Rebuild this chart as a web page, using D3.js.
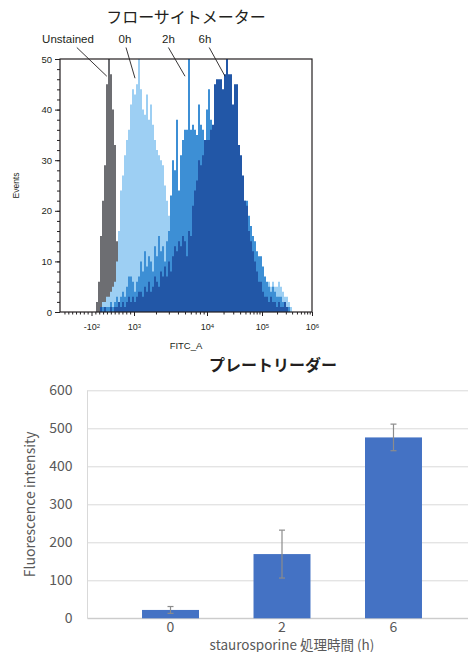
<!DOCTYPE html>
<html>
<head>
<meta charset="utf-8">
<script src="https://cdn.jsdelivr.net/npm/d3@7"></script>
<style>
  body { margin: 0; background: #fff; }
  svg { display: block; }
  .flow text { font-family: "Liberation Sans", Arial, sans-serif; fill: #231f20; }
  .plate text { font-family: "Noto Sans CJK JP", "Noto Sans", sans-serif; fill: #595959; }
</style>
</head>
<body>
<svg id="chart" width="468" height="652"></svg>
<script>
// ---- flow cytometer: counts per display channel (2 px bins) ----
var unstainedStart = 18;
var unstained = [2, 6, 15, 22, 29, 45, 50, 47, 40, 33, 14, 4];

var stainedStart = 20;
var h0 = [1, 2, 2, 3, 3, 4, 5, 6, 10, 16,
          24, 27, 31, 34, 36, 41, 44, 43, 45, 50,
          44, 40, 39, 43, 38, 41, 37, 34, 32, 31,
          30, 29, 25, 22, 19, 18, 17, 16, 16, 15,
          14, 14, 13, 13, 12, 12, 12, 11, 11, 11,
          10, 10, 10, 9, 9, 9, 9, 9, 8, 8,
          8, 8, 8, 8, 8, 8, 8, 8, 8, 8,
          8, 8, 8, 7, 7, 7, 7, 7, 7, 6,
          6, 7, 6, 5, 6, 5, 6, 5, 5, 6,
          5, 4, 3, 3, 2, 1];
var h2 = [0, 1, 0, 1, 1, 2, 1, 2, 3, 2,
          3, 4, 3, 5, 7, 7, 6, 4, 6, 7,
          10, 8, 12, 9, 11, 10, 8, 13, 11, 15,
          12, 13, 10, 14, 16, 23, 30, 28, 38, 24,
          31, 34, 36, 36, 50, 36, 37, 36, 35, 41,
          37, 36, 34, 40, 44, 38, 33, 32, 32, 31,
          30, 30, 29, 28, 27, 27, 26, 25, 25, 24,
          24, 23, 22, 22, 19, 17, 15, 14, 12, 11,
          11, 9, 7, 6, 5, 4, 5, 4, 3, 3,
          3, 2, 2, 1, 1, 0];
var h6 = [1, 0, 1, 0, 0, 1, 0, 1, 1, 2,
          1, 2, 1, 2, 3, 2, 3, 2, 3, 4,
          4, 3, 5, 4, 6, 4, 5, 7, 6, 5,
          8, 7, 9, 7, 10, 8, 11, 13, 12, 14,
          13, 15, 14, 11, 16, 15, 21, 24, 26, 30,
          29, 31, 34, 34, 34, 36, 37, 45, 46, 46,
          46, 44, 47, 50, 47, 47, 41, 45, 45, 33,
          31, 27, 22, 21, 16, 14, 12, 10, 8, 6,
          6, 4, 3, 3, 2, 3, 2, 2, 1, 2,
          1, 1, 2, 1, 0, 0];

var flowLabels = ["Unstained", "0h", "2h", "6h"];
var flowLabelChan = [4, 32.5, 54.2, 72.5];
var flowFromChan = [8.4, 33, 54.2, 74.6];
var flowTipChan = [23.4, 37.5, 62.5, 82.5];
var flowTipCount = [46.6, 46.2, 46.6, 46.6];

var fitcMajor = [-100, 1e3, 1e4, 1e5, 1e6];
var fitcExp = ["2", "3", "4", "5", "6"];
var countTicks = [0, 10, 20, 30, 40, 50];

// ---- plate reader ----
var times = ["0", "2", "6"];
var intensity = [22, 169, 476];
var intensityErr = [9, 63, 35];
var intensityTicks = [0, 100, 200, 300, 400, 500, 600];

var svg = d3.select("#chart");

// =================== flow cytometer histogram ===================
var flow = svg.append("g").attr("class", "flow");

var flowX = d3.scaleLinear().domain([0, 126]).range([60, 312]);
var flowY = d3.scaleLinear().domain([0, 50]).range([312, 59]);

// biexponential display: linear around zero, log above 10^3
var linChan = d3.scaleLinear().domain([-100, 1000]).range([15.75, 37]);
var logChan = d3.scaleLinear().domain([3, 4, 5, 6]).range([37, 73.5, 101, 126]);
function fitcChan(v) {
    return v <= 1000 ? linChan(v) : logChan(Math.log10(v));
}

var fitcMinor = d3.range(-800, 1000, 100).filter(function(v) { return v != -100; });
[3, 4, 5].forEach(function(d) {
    for (var k = 2; k <= 9; k++) fitcMinor.push(k * Math.pow(10, d));
});

var area = d3.area()
    .curve(d3.curveStepAfter)
    .x(function(d) { return flowX(d[0]); })
    .y0(flowY(0))
    .y1(function(d) { return flowY(d[1]); });

function histPoints(start, counts) {
    var pts = counts.map(function(c, i) { return [start + i, c]; });
    pts.push([start + counts.length, 0]);
    return pts;
}

var series = [
    { start: unstainedStart, counts: unstained, color: "#6d6e72" },
    { start: stainedStart, counts: h0, color: "#9dcff3" },
    { start: stainedStart, counts: h2, color: "#3d8fd5" },
    { start: stainedStart, counts: h6, color: "#2257a7" }
];

flow.selectAll("path.hist")
    .data(series)
    .enter().append("path")
    .attr("class", "hist")
    .attr("d", function(s) { return area(histPoints(s.start, s.counts)); })
    .attr("fill", function(s) { return s.color; });

// frame
flow.append("rect")
    .attr("x", flowX(0))
    .attr("y", flowY(50))
    .attr("width", flowX(126) - flowX(0))
    .attr("height", flowY(0) - flowY(50))
    .attr("fill", "none")
    .attr("stroke", "#231f20")
    .attr("stroke-width", 1.2);

// y axis
var yMinor = flow.append("g")
    .attr("transform", "translate(" + flowX(0) + ",0)")
    .call(d3.axisLeft(flowY).tickValues(d3.range(0, 51, 2)).tickSize(3).tickFormat(""));
var yMajor = flow.append("g")
    .attr("transform", "translate(" + flowX(0) + ",0)")
    .call(d3.axisLeft(flowY).tickValues(countTicks).tickSize(5).tickPadding(3));
yMajor.selectAll("text").attr("font-size", "9.5px");

// x axis
var xMinor = flow.append("g")
    .attr("transform", "translate(0," + flowY(0) + ")")
    .call(d3.axisBottom(flowX).tickValues(fitcMinor.map(fitcChan)).tickSize(2.5).tickFormat(""));
var xMajor = flow.append("g")
    .attr("transform", "translate(0," + flowY(0) + ")")
    .call(d3.axisBottom(flowX).tickValues(fitcMajor.map(fitcChan)).tickSize(4).tickPadding(8));
xMajor.selectAll("text").each(function(d, i) {
    var t = d3.select(this).text(null).attr("font-size", "9px");
    t.append("tspan").text((fitcMajor[i] < 0 ? "-" : "") + "10");
    t.append("tspan").attr("dy", "-0.45em").attr("font-size", "6px").text(fitcExp[i]);
});

flow.selectAll(".domain").remove();
flow.selectAll(".tick line").attr("stroke", "#231f20");

flow.append("text")
    .attr("x", flowX(63))
    .attr("y", 349)
    .attr("text-anchor", "middle")
    .attr("font-size", "9.5px")
    .text("FITC_A");

flow.append("text")
    .attr("transform", "translate(19," + flowY(25) + ") rotate(-90)")
    .attr("text-anchor", "middle")
    .attr("font-size", "8.5px")
    .text("Events");

flow.append("text")
    .attr("x", 186)
    .attr("y", 23)
    .attr("text-anchor", "middle")
    .style("font-family", "'Noto Sans CJK JP', sans-serif")
    .attr("font-weight", 400)
    .attr("font-size", "16px")
    .text("フローサイトメーター");

// pointer labels
flowLabels.forEach(function(label, i) {
    flow.append("text")
        .attr("x", flowX(flowLabelChan[i]))
        .attr("y", 43)
        .attr("text-anchor", "middle")
        .attr("font-size", "11.5px")
        .text(label);
    flow.append("line")
        .attr("x1", flowX(flowFromChan[i]))
        .attr("y1", 47.5)
        .attr("x2", flowX(flowTipChan[i]))
        .attr("y2", flowY(flowTipCount[i]))
        .attr("stroke", "#231f20")
        .attr("stroke-width", 0.9);
});

// =================== plate reader bar chart ===================
var plate = svg.append("g").attr("class", "plate");

var barX = d3.scaleBand().domain(times).range([87.5, 476.5]).padding(0.489);
var barY = d3.scaleLinear().domain([0, 600]).range([618.3, 390.3]);

var grid = plate.append("g")
    .attr("transform", "translate(87.5,0)")
    .call(d3.axisLeft(barY).tickValues(intensityTicks).tickSize(-400).tickPadding(15));
grid.select(".domain").remove();
grid.selectAll(".tick line").attr("stroke", "#d9d9d9");
grid.selectAll("text").attr("font-size", "14px").attr("fill", "#595959");

plate.append("line")
    .attr("x1", 87.5).attr("x2", 87.5)
    .attr("y1", barY(600)).attr("y2", barY(0))
    .attr("stroke", "#d9d9d9");
plate.append("line")
    .attr("x1", 87.5).attr("x2", 468)
    .attr("y1", barY(0)).attr("y2", barY(0))
    .attr("stroke", "#c6c6c6");

plate.selectAll("rect.bar")
    .data(times)
    .enter().append("rect")
    .attr("class", "bar")
    .attr("x", function(d) { return barX(d); })
    .attr("width", barX.bandwidth())
    .attr("y", function(d, i) { return barY(intensity[i]); })
    .attr("height", function(d, i) { return barY(0) - barY(intensity[i]); })
    .attr("fill", "#4472c4");

var err = plate.selectAll("g.err")
    .data(times)
    .enter().append("g")
    .attr("class", "err")
    .attr("stroke", "#8c8c8c")
    .attr("stroke-width", 1.2);
err.append("line")
    .attr("x1", function(d) { return barX(d) + barX.bandwidth() / 2; })
    .attr("x2", function(d) { return barX(d) + barX.bandwidth() / 2; })
    .attr("y1", function(d, i) { return barY(intensity[i] + intensityErr[i]); })
    .attr("y2", function(d, i) { return barY(intensity[i] - intensityErr[i]); });
[1, -1].forEach(function(sign) {
    err.append("line")
        .attr("x1", function(d) { return barX(d) + barX.bandwidth() / 2 - 3; })
        .attr("x2", function(d) { return barX(d) + barX.bandwidth() / 2 + 3; })
        .attr("y1", function(d, i) { return barY(intensity[i] + sign * intensityErr[i]); })
        .attr("y2", function(d, i) { return barY(intensity[i] + sign * intensityErr[i]); });
});

var xAxis = plate.append("g")
    .attr("transform", "translate(0," + barY(0) + ")")
    .call(d3.axisBottom(barX).tickSize(0).tickPadding(4));
xAxis.select(".domain").remove();
xAxis.selectAll("text").attr("font-size", "14px").attr("fill", "#404040");

plate.append("text")
    .attr("transform", "translate(35," + barY(300) + ") rotate(-90)")
    .attr("text-anchor", "middle")
    .attr("font-size", "14px")
    .text("Fluorescence intensity");

plate.append("text")
    .attr("x", 292)
    .attr("y", 650)
    .attr("text-anchor", "middle")
    .attr("font-size", "13.5px")
    .text("staurosporine 処理時間 (h)");

plate.append("text")
    .attr("x", 273)
    .attr("y", 371)
    .attr("text-anchor", "middle")
    .attr("font-weight", 700)
    .attr("font-size", "16px")
    .style("fill", "#231f20")
    .text("プレートリーダー");
</script>
</body>
</html>
